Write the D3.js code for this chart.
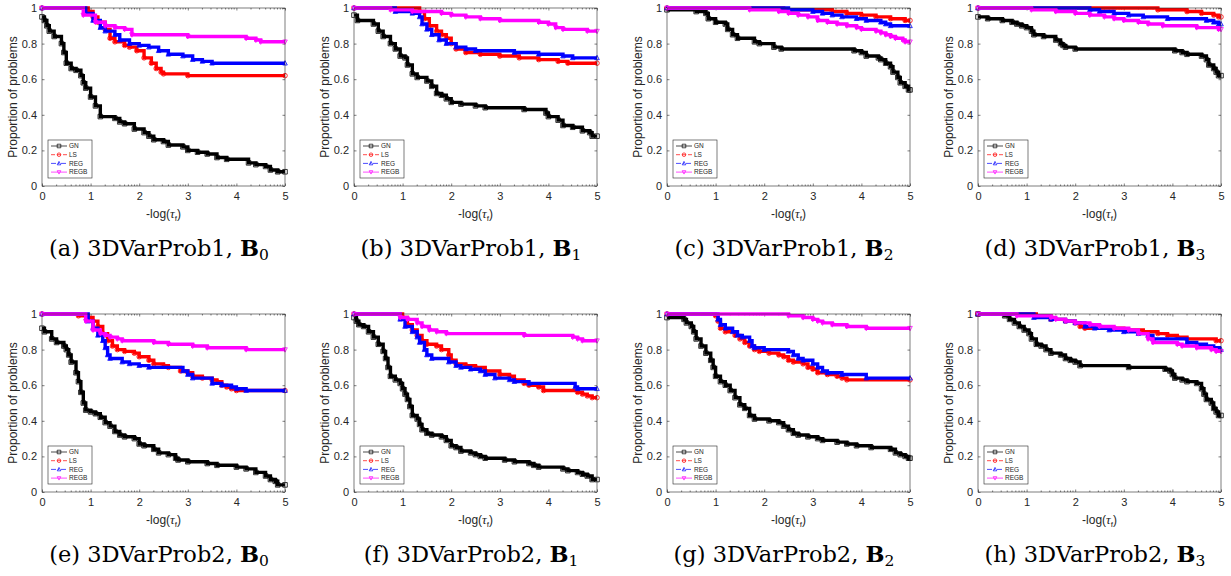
<!DOCTYPE html>
<html>
<head>
<meta charset="utf-8">
<script src="https://cdn.jsdelivr.net/npm/d3@7"></script>
<style>
  body { margin: 0; background: #fff; }
  svg { display: block; }
  .tick text { font-family: "Liberation Sans", Arial, sans-serif; font-size: 11px; fill: #262626; }
  .cap { font-family: "DejaVu Serif", serif; font-size: 22.5px; fill: #000; }
</style>
</head>
<body>
<script>
// ---- data: step points [x, proportion], one list per panel (a..h)
var panelLetters = ["a", "b", "c", "d", "e", "f", "g", "h"];
var problemNames = ["3DVarProb1", "3DVarProb1", "3DVarProb1", "3DVarProb1",
                    "3DVarProb2", "3DVarProb2", "3DVarProb2", "3DVarProb2"];
var bIndex = ["0", "1", "2", "3", "0", "1", "2", "3"];
var seriesNames = ["GN", "LS", "REG", "REGB"];
var xTicks = [0, 1, 2, 3, 4, 5];
var yTicks = [0, 0.2, 0.4, 0.6, 0.8, 1];

var seriesGN = [
  [[0,0.95],[0.05,0.93],[0.1,0.9],[0.15,0.87],[0.25,0.84],[0.4,0.8],[0.45,0.75],[0.5,0.69],[0.6,0.66],[0.7,0.65],[0.8,0.62],[0.85,0.58],[0.9,0.55],[1.0,0.5],[1.1,0.45],[1.2,0.39],[1.5,0.38],[1.6,0.36],[1.7,0.35],[1.9,0.32],[2.1,0.3],[2.2,0.28],[2.3,0.26],[2.5,0.25],[2.6,0.23],[2.9,0.22],[3.0,0.2],[3.2,0.19],[3.4,0.18],[3.6,0.16],[3.8,0.15],[4.25,0.13],[4.4,0.12],[4.6,0.11],[4.7,0.09],[4.85,0.08],[5,0.08]],
  [[0,0.96],[0.07,0.93],[0.4,0.91],[0.5,0.87],[0.6,0.84],[0.75,0.8],[0.85,0.77],[0.95,0.73],[1.05,0.72],[1.1,0.68],[1.2,0.63],[1.3,0.61],[1.5,0.59],[1.6,0.56],[1.7,0.52],[1.8,0.51],[1.9,0.49],[2.0,0.47],[2.2,0.46],[2.5,0.45],[2.7,0.44],[3.5,0.43],[3.95,0.41],[4.0,0.39],[4.2,0.37],[4.3,0.34],[4.5,0.33],[4.7,0.31],[4.85,0.3],[4.9,0.28],[5,0.28]],
  [[0,0.99],[0.6,0.98],[0.8,0.97],[0.85,0.94],[1.0,0.92],[1.2,0.91],[1.25,0.88],[1.35,0.85],[1.45,0.83],[1.8,0.81],[1.9,0.8],[2.2,0.78],[2.35,0.77],[3.85,0.76],[4.0,0.75],[4.1,0.73],[4.35,0.72],[4.4,0.71],[4.5,0.69],[4.6,0.67],[4.65,0.64],[4.75,0.61],[4.8,0.58],[4.9,0.56],[4.97,0.54],[5,0.54]],
  [[0,0.95],[0.2,0.94],[0.5,0.93],[0.7,0.92],[0.8,0.91],[0.9,0.9],[1.0,0.89],[1.1,0.87],[1.15,0.85],[1.35,0.84],[1.6,0.82],[1.7,0.8],[1.75,0.79],[1.8,0.78],[2.0,0.77],[4.05,0.76],[4.2,0.75],[4.3,0.74],[4.6,0.73],[4.7,0.71],[4.75,0.68],[4.85,0.66],[4.9,0.64],[4.95,0.62],[5,0.62]],
  [[0,0.92],[0.05,0.9],[0.2,0.86],[0.3,0.84],[0.45,0.82],[0.5,0.8],[0.55,0.77],[0.6,0.73],[0.7,0.67],[0.75,0.62],[0.8,0.56],[0.85,0.5],[0.9,0.46],[1.0,0.45],[1.1,0.44],[1.2,0.42],[1.3,0.39],[1.4,0.37],[1.5,0.34],[1.6,0.32],[1.7,0.31],[1.9,0.3],[2.0,0.27],[2.1,0.26],[2.3,0.24],[2.4,0.22],[2.6,0.21],[2.75,0.19],[2.8,0.18],[3.0,0.17],[3.4,0.16],[3.6,0.15],[4.0,0.14],[4.2,0.13],[4.4,0.11],[4.6,0.09],[4.7,0.07],[4.8,0.06],[4.85,0.04],[5,0.04]],
  [[0,0.98],[0.05,0.96],[0.1,0.94],[0.2,0.93],[0.3,0.9],[0.4,0.87],[0.5,0.83],[0.6,0.79],[0.65,0.75],[0.7,0.7],[0.75,0.65],[0.85,0.63],[0.95,0.61],[1.0,0.58],[1.05,0.55],[1.1,0.52],[1.15,0.48],[1.2,0.43],[1.3,0.41],[1.35,0.38],[1.4,0.35],[1.5,0.33],[1.6,0.32],[1.8,0.31],[1.9,0.29],[2.0,0.26],[2.1,0.25],[2.2,0.23],[2.4,0.22],[2.5,0.21],[2.6,0.2],[2.7,0.19],[3.1,0.18],[3.3,0.17],[3.6,0.16],[3.7,0.15],[3.8,0.14],[4.3,0.13],[4.4,0.12],[4.6,0.11],[4.7,0.1],[4.8,0.09],[4.9,0.07],[5,0.07]],
  [[0,0.98],[0.35,0.97],[0.4,0.95],[0.5,0.93],[0.55,0.9],[0.6,0.86],[0.7,0.82],[0.8,0.78],[0.9,0.74],[0.95,0.7],[1.0,0.65],[1.1,0.62],[1.2,0.6],[1.3,0.57],[1.4,0.53],[1.5,0.49],[1.6,0.47],[1.7,0.43],[1.8,0.41],[2.1,0.4],[2.3,0.39],[2.4,0.37],[2.5,0.35],[2.6,0.33],[2.7,0.32],[2.9,0.31],[3.1,0.3],[3.2,0.29],[3.5,0.28],[3.7,0.27],[3.9,0.26],[4.2,0.25],[4.6,0.24],[4.7,0.22],[4.8,0.21],[4.9,0.2],[4.97,0.19],[5,0.19]],
  [[0,1],[0.55,0.99],[0.65,0.97],[0.75,0.95],[0.85,0.93],[0.95,0.91],[1.05,0.89],[1.1,0.86],[1.2,0.83],[1.3,0.82],[1.4,0.8],[1.5,0.78],[1.7,0.77],[1.8,0.75],[1.9,0.74],[2.0,0.73],[2.1,0.71],[3.1,0.7],[3.85,0.69],[3.95,0.68],[4.0,0.66],[4.05,0.64],[4.2,0.63],[4.3,0.62],[4.5,0.61],[4.6,0.58],[4.65,0.55],[4.7,0.52],[4.8,0.5],[4.85,0.47],[4.9,0.45],[4.95,0.43],[5,0.43]]
];
var seriesLS = [
  [[0,1],[0.95,0.98],[1.05,0.95],[1.15,0.92],[1.3,0.88],[1.4,0.83],[1.5,0.81],[1.7,0.79],[1.8,0.78],[1.95,0.76],[2.1,0.72],[2.25,0.69],[2.35,0.66],[2.45,0.64],[2.5,0.63],[3.0,0.62],[5,0.62]],
  [[0,1],[1.35,0.98],[1.45,0.94],[1.55,0.9],[1.7,0.87],[1.8,0.85],[1.9,0.83],[2.0,0.8],[2.1,0.77],[2.3,0.75],[2.6,0.74],[3.0,0.73],[3.4,0.72],[3.8,0.71],[4.2,0.7],[4.4,0.69],[5,0.69]],
  [[0,1],[2.4,0.99],[3.4,0.98],[3.7,0.97],[4.0,0.96],[4.3,0.95],[4.6,0.94],[4.9,0.93],[5,0.93]],
  [[0,1],[3.7,0.99],[4.3,0.98],[4.6,0.97],[4.85,0.96],[4.95,0.95],[5,0.95]],
  [[0,1],[0.75,0.99],[0.95,0.98],[1.05,0.96],[1.15,0.93],[1.25,0.89],[1.35,0.85],[1.45,0.82],[1.55,0.8],[1.7,0.79],[1.9,0.78],[2.0,0.76],[2.2,0.74],[2.3,0.72],[2.5,0.71],[2.6,0.7],[2.85,0.68],[3.0,0.67],[3.1,0.65],[3.3,0.64],[3.5,0.63],[3.6,0.62],[3.7,0.6],[3.8,0.59],[3.9,0.58],[4.0,0.57],[5,0.57]],
  [[0,1],[1.0,0.98],[1.1,0.94],[1.2,0.91],[1.3,0.88],[1.4,0.85],[1.5,0.83],[1.7,0.82],[1.8,0.8],[1.95,0.77],[2.0,0.74],[2.1,0.72],[2.3,0.71],[2.5,0.7],[2.7,0.68],[3.0,0.66],[3.2,0.65],[3.3,0.63],[3.5,0.61],[3.6,0.6],[3.8,0.59],[3.9,0.57],[4.6,0.56],[4.7,0.55],[4.8,0.54],[4.9,0.53],[5,0.53]],
  [[0,1],[1.0,0.99],[1.05,0.96],[1.1,0.92],[1.2,0.9],[1.4,0.88],[1.5,0.86],[1.6,0.84],[1.7,0.82],[1.8,0.8],[1.9,0.79],[2.1,0.78],[2.3,0.77],[2.4,0.76],[2.5,0.74],[2.6,0.73],[2.8,0.72],[2.9,0.7],[3.0,0.69],[3.1,0.67],[3.3,0.66],[3.5,0.65],[3.6,0.64],[3.7,0.63],[5,0.63]],
  [[0,1],[1.2,0.99],[1.5,0.97],[1.8,0.96],[2.0,0.95],[2.1,0.93],[2.2,0.92],[3.0,0.91],[3.4,0.9],[3.7,0.89],[3.9,0.88],[4.1,0.87],[4.3,0.86],[4.9,0.85],[5,0.85]]
];
var seriesREG = [
  [[0,1],[0.9,0.97],[1.05,0.93],[1.2,0.89],[1.3,0.87],[1.5,0.85],[1.6,0.82],[1.8,0.8],[2.0,0.79],[2.2,0.78],[2.4,0.76],[2.6,0.74],[2.9,0.73],[3.1,0.71],[3.3,0.7],[3.5,0.69],[5,0.69]],
  [[0,1],[0.85,0.98],[1.2,0.97],[1.35,0.95],[1.4,0.91],[1.5,0.88],[1.6,0.85],[1.75,0.82],[1.9,0.8],[2.1,0.78],[2.3,0.77],[2.5,0.76],[3.3,0.75],[3.8,0.74],[4.3,0.73],[4.5,0.72],[5,0.72]],
  [[0,1],[2.5,0.99],[3.0,0.98],[3.2,0.97],[3.4,0.96],[3.6,0.95],[3.9,0.94],[4.1,0.93],[4.4,0.92],[4.5,0.91],[4.6,0.9],[5,0.9]],
  [[0,1],[2.3,0.99],[2.5,0.98],[2.8,0.97],[3.1,0.96],[3.4,0.95],[3.9,0.94],[4.7,0.93],[4.85,0.92],[4.95,0.91],[5,0.91]],
  [[0,1],[0.95,0.96],[1.05,0.92],[1.15,0.88],[1.25,0.85],[1.3,0.81],[1.35,0.77],[1.4,0.75],[1.65,0.73],[1.8,0.72],[2.0,0.71],[2.2,0.7],[2.9,0.68],[3.0,0.66],[3.1,0.64],[3.5,0.61],[3.7,0.6],[3.9,0.59],[4.0,0.58],[4.2,0.57],[5,0.57]],
  [[0,1],[0.95,0.97],[1.05,0.93],[1.2,0.9],[1.3,0.87],[1.35,0.84],[1.45,0.8],[1.5,0.77],[1.6,0.75],[1.95,0.73],[2.1,0.71],[2.2,0.7],[2.4,0.69],[2.6,0.68],[2.7,0.66],[2.9,0.64],[3.2,0.63],[3.3,0.62],[3.6,0.61],[4.55,0.59],[4.6,0.58],[5,0.58]],
  [[0,1],[1.05,0.97],[1.1,0.94],[1.2,0.92],[1.35,0.9],[1.45,0.88],[1.55,0.87],[1.7,0.85],[1.75,0.82],[1.8,0.81],[2.0,0.8],[2.5,0.79],[2.6,0.77],[2.7,0.75],[2.8,0.74],[3.0,0.72],[3.1,0.7],[3.2,0.68],[3.3,0.67],[3.6,0.66],[4.1,0.64],[5,0.64]],
  [[0,1],[1.15,0.98],[1.5,0.97],[1.8,0.96],[2.0,0.95],[2.2,0.93],[2.4,0.92],[2.7,0.91],[3.0,0.9],[3.3,0.89],[3.5,0.88],[3.6,0.86],[4.3,0.84],[4.5,0.83],[4.7,0.82],[4.85,0.81],[4.97,0.8],[5,0.8]]
];
var seriesREGB = [
  [[0,1],[0.85,0.96],[1.1,0.92],[1.3,0.9],[1.5,0.89],[1.7,0.88],[1.85,0.85],[3.0,0.84],[4.2,0.83],[4.4,0.82],[4.5,0.81],[5,0.81]],
  [[0,1],[0.75,0.99],[1.2,0.98],[1.8,0.97],[2.0,0.96],[2.3,0.95],[2.6,0.94],[3.0,0.93],[3.8,0.92],[4.0,0.91],[4.15,0.89],[4.3,0.88],[4.8,0.87],[5,0.87]],
  [[0,1],[1.7,0.99],[2.3,0.98],[2.5,0.97],[2.7,0.96],[2.9,0.95],[3.1,0.93],[3.3,0.92],[3.5,0.91],[3.7,0.9],[3.9,0.89],[4.0,0.88],[4.3,0.87],[4.4,0.86],[4.5,0.85],[4.6,0.84],[4.7,0.83],[4.85,0.82],[4.9,0.81],[5,0.81]],
  [[0,1],[1.1,0.99],[1.6,0.98],[2.0,0.97],[2.3,0.96],[2.6,0.95],[2.8,0.94],[3.0,0.93],[3.3,0.92],[3.5,0.91],[3.8,0.9],[4.5,0.89],[4.95,0.88],[5,0.88]],
  [[0,1],[0.9,0.96],[1.05,0.91],[1.2,0.89],[1.3,0.88],[1.4,0.87],[1.55,0.86],[1.65,0.85],[2.3,0.84],[2.6,0.83],[3.1,0.82],[3.4,0.81],[4.2,0.8],[5,0.8]],
  [[0,1],[0.95,0.98],[1.1,0.97],[1.3,0.95],[1.4,0.93],[1.55,0.91],[1.7,0.9],[1.9,0.89],[3.5,0.88],[4.5,0.87],[4.6,0.86],[4.7,0.85],[5,0.85]],
  [[0,1],[2.5,0.99],[2.8,0.98],[3.0,0.97],[3.1,0.96],[3.2,0.95],[3.4,0.94],[3.7,0.93],[4.1,0.92],[5,0.92]],
  [[0,1],[0.8,0.99],[1.5,0.98],[1.6,0.97],[1.8,0.96],[2.0,0.95],[2.3,0.94],[2.5,0.93],[2.8,0.92],[3.1,0.91],[3.3,0.89],[3.5,0.86],[3.6,0.84],[4.1,0.83],[4.2,0.82],[4.5,0.81],[4.8,0.8],[4.9,0.79],[5,0.79]]
];

// ---- look
var W = 1231, H = 576;
var colX = [42, 354, 667, 978];
var rowY = [8, 314];
var pw = 243, ph = 178;
var colors = ["#000000", "#ff0000", "#0000ff", "#ff00ff"];
var dashes = [null, "4,2", "5,2,1,2", null];
var allSeries = [seriesGN, seriesLS, seriesREG, seriesREGB];

var svg = d3.select("body").append("svg")
  .attr("width", W)
  .attr("height", H);

function markerPath(k, x, y, s) {
  if (k === 0) return "M" + (x - s) + "," + (y - s) + "h" + (2 * s) + "v" + (2 * s) + "h" + (-2 * s) + "Z";
  if (k === 1) return "M" + (x - s) + "," + y + "a" + s + "," + s + " 0 1,0 " + (2 * s) + ",0a" + s + "," + s + " 0 1,0 " + (-2 * s) + ",0";
  if (k === 2) return "M" + x + "," + (y - s * 1.1) + "L" + (x + s) + "," + (y + s * 0.8) + "L" + (x - s) + "," + (y + s * 0.8) + "Z";
  return "M" + x + "," + (y + s * 1.1) + "L" + (x + s) + "," + (y - s * 0.8) + "L" + (x - s) + "," + (y - s * 0.8) + "Z";
}

for (var p = 0; p < 8; p++) {
  var ox = colX[p % 4];
  var oy = rowY[Math.floor(p / 4)];
  var g = svg.append("g").attr("transform", "translate(" + ox + "," + oy + ")");

  var x = d3.scaleLinear().domain([0, 5]).range([0, pw]);
  var y = d3.scaleLinear().domain([0, 1]).range([ph, 0]);

  // minor ticks (log style within each unit)
  var minor = [];
  for (var i = 0; i < 5; i++) for (var m = 2; m < 10; m++) minor.push(i + Math.log10(m));
  g.selectAll(".minor").data(minor).enter().append("line")
    .attr("x1", function(d) { return x(d); }).attr("x2", function(d) { return x(d); })
    .attr("y1", ph).attr("y2", ph - 1.5)
    .attr("stroke", "#262626").attr("stroke-width", 0.6);
  g.selectAll(".minorT").data(minor).enter().append("line")
    .attr("x1", function(d) { return x(d); }).attr("x2", function(d) { return x(d); })
    .attr("y1", 0).attr("y2", 1.5)
    .attr("stroke", "#262626").attr("stroke-width", 0.6);

  var xAxis = g.append("g").attr("transform", "translate(0," + ph + ")")
    .call(d3.axisBottom(x).tickValues(xTicks).tickFormat(d3.format("d")).tickSizeInner(-2.5).tickSizeOuter(0).tickPadding(6));
  var yAxis = g.append("g")
    .call(d3.axisLeft(y).tickValues(yTicks).tickFormat(function(d) { return d === 0 || d === 1 ? d3.format("d")(d) : d3.format(".1f")(d); }).tickSizeInner(-2.5).tickSizeOuter(0).tickPadding(5));
  g.append("g").attr("transform", "translate(" + pw + ",0)")
    .call(d3.axisRight(y).tickValues(yTicks).tickFormat("").tickSizeInner(-2.5).tickSizeOuter(0));
  g.append("g")
    .call(d3.axisTop(x).tickValues(xTicks).tickFormat("").tickSizeInner(-2.5).tickSizeOuter(0));
  g.selectAll(".domain").remove();
  g.selectAll(".tick line").attr("stroke", "#262626").attr("stroke-width", 0.6);
  xAxis.selectAll("text").attr("dy", "0.71em");

  // curves
  var line = d3.line().x(function(d) { return x(d[0]); }).y(function(d) { return y(d[1]); }).curve(d3.curveStepAfter);
  for (var s = 0; s < 4; s++) {
    var pts = allSeries[s][p];
    g.append("path").datum(pts)
      .attr("d", line)
      .attr("fill", "none")
      .attr("stroke", colors[s])
      .attr("stroke-width", 3.4);
    g.selectAll(".mk" + s).data(pts).enter().append("path")
      .attr("d", (function(k) { return function(d) { return markerPath(k, x(d[0]), y(d[1]), 2.3); }; })(s))
      .attr("fill", "none")
      .attr("stroke", colors[s])
      .attr("stroke-width", 0.8);
  }

  // box
  g.append("rect").attr("width", pw).attr("height", ph)
    .attr("fill", "none").attr("stroke", "#262626").attr("stroke-width", 0.6);

  // axis labels
  g.append("text")
    .attr("transform", "translate(-29," + (ph / 2) + ") rotate(-90)")
    .attr("text-anchor", "middle")
    .attr("dy", "0.35em")
    .style("font-family", "'Liberation Sans', Arial, sans-serif")
    .style("font-size", "12px").style("fill", "#262626")
    .text("Proportion of problems");
  var xl = g.append("text")
    .attr("x", pw / 2).attr("y", ph + 32)
    .attr("text-anchor", "middle")
    .style("font-family", "'Liberation Sans', Arial, sans-serif")
    .style("font-size", "12px").style("fill", "#262626");
  xl.append("tspan").text("-log(");
  xl.append("tspan").style("font-family", "'Liberation Serif', serif").style("font-style", "italic").style("font-size", "13px").text("\u03c4");
  xl.append("tspan").attr("dy", 3).style("font-size", "8px").text("f");
  xl.append("tspan").attr("dy", -3).text(")");

  // legend
  var lg = g.append("g").attr("transform", "translate(6," + (ph - 46) + ")");
  lg.append("rect").attr("width", 44).attr("height", 38)
    .attr("fill", "#fff").attr("stroke", "#262626").attr("stroke-width", 0.6);
  seriesNames.forEach(function(name, k) {
    var ly = 6 + k * 8.7;
    lg.append("line").attr("x1", 3).attr("x2", 19).attr("y1", ly).attr("y2", ly)
      .attr("stroke", colors[k]).attr("stroke-width", 0.7)
      .attr("stroke-dasharray", dashes[k]);
    lg.append("path").attr("d", markerPath(k, 11, ly, 1.8))
      .attr("fill", "none").attr("stroke", colors[k]).attr("stroke-width", 0.7);
    lg.append("text").attr("x", 21).attr("y", ly).attr("dy", "0.35em")
      .style("font-family", "'Liberation Sans', Arial, sans-serif")
      .style("font-size", "6.5px").style("fill", "#262626")
      .text(name);
  });

  // caption
  var cap = svg.append("text").attr("class", "cap")
    .attr("x", ox + 117).attr("y", oy + 248)
    .attr("text-anchor", "middle");
  cap.append("tspan").text("(" + panelLetters[p] + ") " + problemNames[p] + ", ");
  cap.append("tspan").style("font-weight", "bold").text("B");
  cap.append("tspan").attr("dy", 4).style("font-size", "15.5px").text(bIndex[p]);
}
</script>
</body>
</html>
